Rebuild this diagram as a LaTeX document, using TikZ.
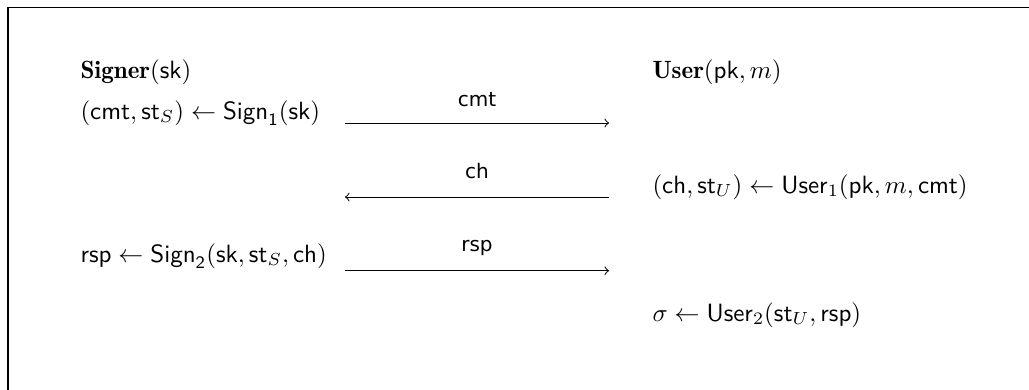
\documentclass[tikz,border=0pt]{standalone}
\usepackage{amsmath}
\usepackage{fontspec}
\newfontfamily\msgfont{DejaVu Sans}
\begin{document}
\begin{tikzpicture}[x=1pt,y=1pt,
  party/.style={anchor=base west,inner sep=0pt},
  stmt/.style={anchor=base west,inner sep=0pt},
  msg/.style={anchor=base,inner sep=0pt,font=\msgfont\fontsize{8}{9}\selectfont},
  flow/.style={line width=0.4pt,-to}]
  \useasboundingbox (0,0) rectangle (411.6,-155.6);
  % frame around the protocol
  \draw[line width=0.45pt] (3.2,-3) rectangle (430,-175);

  % parties
  \node[party] (signer) at (32,-31.2) {$\mathbf{Signer}(\mathsf{sk})$};
  \node[party] (user) at (260.8,-31.2) {$\mathbf{User}(\mathsf{pk},m)$};

  % signer and user computations
  \node[stmt] (s1) at (32,-47.6) {$(\mathsf{cmt},\mathsf{st}_S)\leftarrow\mathsf{Sign}_\mathsf{1}(\mathsf{sk})$};
  \node[stmt] (u1) at (260.8,-77.2) {$(\mathsf{ch},\mathsf{st}_U)\leftarrow\mathsf{User}_1(\mathsf{pk},m,\mathsf{cmt})$};
  \node[stmt] (s2) at (32,-104.8) {$\mathsf{rsp}\leftarrow\mathsf{Sign}_\mathsf{2}(\mathsf{sk},\mathsf{st}_S,\mathsf{ch})$};
  \node[stmt] (u2) at (260.8,-128.4) {$\sigma\leftarrow\mathsf{User}_2(\mathsf{st}_U,\mathsf{rsp})$};

  % message endpoints
  \coordinate (a1l) at (138,-49.2);  \coordinate (a1r) at (243.6,-49.2);
  \coordinate (a2l) at (138,-78.8);  \coordinate (a2r) at (243.6,-78.8);
  \coordinate (a3l) at (138,-108.3); \coordinate (a3r) at (243.6,-108.3);

  % messages
  \draw[flow] (a1l) -- (a1r);
  \node[msg] (m1) at (190.8,-42.4) {cmt};
  \draw[flow] (a2r) -- (a2l);
  \node[msg] (m2) at (190.8,-71.2) {ch};
  \draw[flow] (a3l) -- (a3r);
  \node[msg] (m3) at (190.8,-100.4) {rsp};
\end{tikzpicture}
\end{document}
